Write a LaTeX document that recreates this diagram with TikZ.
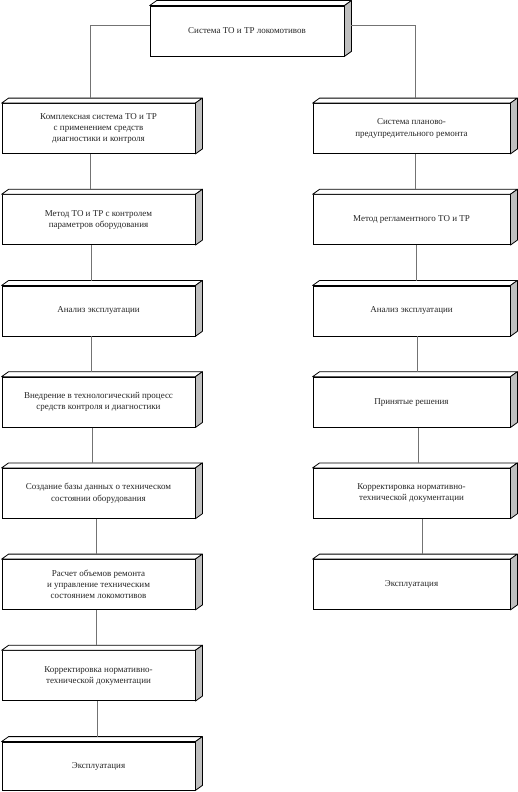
\documentclass[tikz,border=0pt]{standalone}
\usepackage{fontspec}
\setmainfont{Liberation Serif}
\begin{document}
\begin{tikzpicture}[x=1pt,y=-1pt,
  box/.style={draw=black, fill=white, line width=0.8pt, minimum width=193pt,
    minimum height=50pt, inner sep=0pt, align=center,
    font=\fontsize{9}{11.3}\selectfont, text=black!85},
  rbox/.style={box, minimum width=197pt},
  conn/.style={draw=black!55, line width=0.6pt},
  topface/.style={fill=white, draw=black, line width=0.8pt, line join=round},
  sideface/.style={fill=black!25, draw=black, line width=0.8pt, line join=round}]
\useasboundingbox (0,0) rectangle (517,792);

\node[box, minimum width=194pt] (T) at (247,31) {Система ТО и ТР локомотивов};

\node[box] (L1) at (98.5,128.5) {Комплексная система ТО и ТР\\с применением средств\\диагностики и контроля};
\node[box] (L2) at (98.5,219.7) {Метод ТО и ТР с контролем\\параметров оборудования};
\node[box] (L3) at (98.5,310.9) {Анализ эксплуатации};
\node[box] (L4) at (98.5,402.1) {Внедрение в технологический процесс\\средств контроля и диагностики};
\node[box] (L5) at (98.5,493.3) {Создание базы данных о техническом\\состоянии оборудования};
\node[box] (L6) at (98.5,584.5) {Расчет объемов ремонта\\и управление техническим\\состоянием локомотивов};
\node[box] (L7) at (98.5,675.7) {Корректировка нормативно-\\технической документации};
\node[box, minimum height=48pt] (L8) at (98.5,766.0) {Эксплуатация};

\node[rbox] (R1) at (411.5,128.5) {Система планово-\\предупредительного ремонта};
\node[rbox] (R2) at (411.5,219.7) {Метод регламентного ТО и ТР};
\node[rbox] (R3) at (411.5,310.9) {Анализ эксплуатации};
\node[rbox] (R4) at (411.5,402.1) {Принятые решения};
\node[rbox] (R5) at (411.5,493.3) {Корректировка нормативно-\\технической документации};
\node[rbox] (R6) at (411.5,584.5) {Эксплуатация};

\foreach \n in {T,L1,L2,L3,L4,L5,L6,L7,L8,R1,R2,R3,R4,R5,R6}{
  \filldraw[topface] (\n.north west) -- ++(7,-5) -- ([shift={(7,-5)}]\n.north east) -- (\n.north east) -- cycle;
  \filldraw[sideface] (\n.north east) -- ++(7,-5) -- ([shift={(7,-5)}]\n.south east) -- (\n.south east) -- cycle;
}

\coordinate (yc) at (0,25);
\coordinate (cl0) at (90,0);
\coordinate (cr0) at (415,0);
\draw[conn] (T.west |- yc) -| ([yshift=5pt]L1.north -| cl0);
\draw[conn] ([xshift=7pt]T.east |- yc) -| ([yshift=5pt]R1.north -| cr0);

\foreach \i/\j/\x in {1/2/90,2/3/91,3/4/91,4/5/92,5/6/96,6/7/96,7/8/97}{
  \coordinate (cx) at (\x,0);
  \draw[conn] (L\i.south -| cx) -- ([yshift=5pt]L\j.north -| cx);
}
\foreach \i/\j/\x in {1/2/415,2/3/416,3/4/417,4/5/418,5/6/422}{
  \coordinate (cx) at (\x,0);
  \draw[conn] (R\i.south -| cx) -- ([yshift=5pt]R\j.north -| cx);
}
\end{tikzpicture}
\end{document}
